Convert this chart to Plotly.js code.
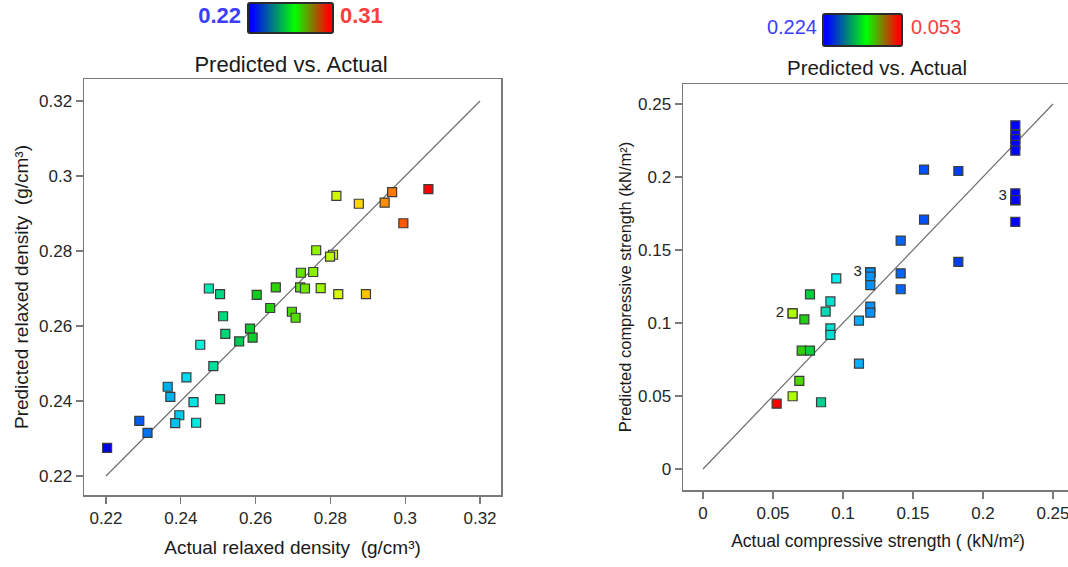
<!DOCTYPE html>
<html><head><meta charset="utf-8">
<script src="https://cdn.plot.ly/plotly-3.0.1.min.js"></script>
<style>html,body{margin:0;padding:0;overflow:hidden;background:#fff}#chart{width:1075px;height:567px}</style>
</head><body><div id="chart"></div>
<script>
// ---- Left chart data: relaxed density (g/cm3)
const leftActual = [0.2203,0.2289,0.2311,0.2365,0.2372,0.2415,0.2396,0.2385,0.2434,0.2441,0.2452,0.2475,0.2505,0.2513,0.2519,0.2487,0.2505,0.2556,0.2585,0.2592,0.2603,0.2639,0.2654,0.2697,0.2707,0.2721,0.2754,0.2719,0.2732,0.2774,0.2821,0.2895,0.2762,0.2807,0.2799,0.2816,0.2876,0.2945,0.2965,0.2995,0.3062];
const leftPred   = [0.2275,0.2347,0.2315,0.2438,0.2411,0.2463,0.2362,0.2341,0.2397,0.2342,0.2550,0.2700,0.2685,0.2626,0.2579,0.2493,0.2405,0.2559,0.2593,0.2569,0.2683,0.2648,0.2703,0.2638,0.2622,0.2742,0.2744,0.2703,0.2700,0.2701,0.2685,0.2685,0.2802,0.2790,0.2785,0.2947,0.2926,0.2929,0.2957,0.2874,0.2965];
const leftTicks  = [0.22,0.24,0.26,0.28,0.3,0.32];
const leftLegend = ['0.22','0.31'];

// ---- Right chart data: compressive strength (kN/m2)
const rightActual = [0.2231,0.2231,0.2231,0.2231,0.2231,0.2231,0.2231,0.2231,0.2231,0.2231,0.1579,0.1824,0.1579,0.1824,0.1412,0.1412,0.1412,0.1195,0.1195,0.1195,0.1195,0.1195,0.1195,0.1195,0.1114,0.1114,0.0952,0.0910,0.0876,0.0910,0.0910,0.0764,0.0640,0.0640,0.0724,0.0705,0.0764,0.0688,0.0640,0.0526,0.0843];
const rightPred   = [0.2354,0.2290,0.2260,0.2220,0.2180,0.1888,0.1842,0.1842,0.1842,0.1692,0.2050,0.2041,0.1708,0.1418,0.1564,0.1340,0.1231,0.1347,0.1347,0.1347,0.1317,0.1260,0.1112,0.1071,0.1016,0.0721,0.1306,0.1148,0.1078,0.0963,0.0918,0.1196,0.1066,0.1066,0.1025,0.0810,0.0810,0.0603,0.0498,0.0447,0.0457];
const rightTicks  = [0,0.05,0.1,0.15,0.2,0.25];
const rightLegend = ['0.224','0.053'];
// replicate-count labels
const countText = ['3','2','3'];
const countX    = [0.1195,0.0640,0.2231];
const countY    = [0.1347,0.1066,0.1865];

const W = 1075, H = 567;
const px = v => v / W, py = v => 1 - v / H;
const SANS = 'Liberation Sans, Arial, sans-serif';

const leftScale = [[0,'#0000e6'],[0.1,'#005af0'],[0.18,'#00aaf0'],[0.24,'#00dcf0'],[0.28,'#00f0d8'],[0.33,'#00dc8c'],[0.4,'#00c850'],[0.46,'#10d010'],[0.56,'#50dc00'],[0.64,'#a0fa00'],[0.69,'#d8f800'],[0.75,'#ffd700'],[0.83,'#ff8c00'],[0.88,'#ff5a00'],[0.95,'#ff0000'],[1,'#ff0000']];
const rightScale = [[0,'#ff0000'],[0.064,'#b0ff00'],[0.1,'#30d000'],[0.14,'#00d040'],[0.18,'#00d090'],[0.22,'#00e0d0'],[0.25,'#00f0f0'],[0.34,'#00b0ff'],[0.4,'#008cff'],[0.52,'#0064ff'],[0.62,'#0050ff'],[0.75,'#0040f0'],[1,'#0000ff']];

const marker = (vals, scale, cmin, cmax) => ({symbol:'square', size:9, color:vals, colorscale:scale, cmin:cmin, cmax:cmax, showscale:false, line:{color:'#3c3c3c', width:1.2}});

// overlay axis in page pixels, for the legend labels and the second title
const overlayX = [241, 340, 817, 911, 877];
const overlayY = [17, 17, 29, 29, 70];
const overlayText = ['<b>'+leftLegend[0]+'</b>', '<b>'+leftLegend[1]+'</b>', rightLegend[0], rightLegend[1], 'Predicted vs. Actual'];
const overlayPos = ['middle left','middle right','middle left','middle right','middle center'];
const overlayColor = ['#3d3dff','#ff3d3d','#3d3dff','#ff3d3d','#1a1a1a'];
const overlaySize = [22,22,20,20,20.5];

const traces = [
  {x:[leftTicks[0],leftTicks[leftTicks.length-1]], y:[leftTicks[0],leftTicks[leftTicks.length-1]], mode:'lines', line:{color:'#6e6e6e', width:1.2}, xaxis:'x', yaxis:'y', hoverinfo:'skip'},
  {x:leftActual, y:leftPred, mode:'markers', marker:marker(leftActual, leftScale, 0.22, 0.31), xaxis:'x', yaxis:'y'},
  {x:[rightTicks[0],rightTicks[rightTicks.length-1]], y:[rightTicks[0],rightTicks[rightTicks.length-1]], mode:'lines', line:{color:'#6e6e6e', width:1.2}, xaxis:'x2', yaxis:'y2', hoverinfo:'skip'},
  {x:rightActual, y:rightPred, mode:'markers', marker:marker(rightActual, rightScale, 0.053, 0.224), xaxis:'x2', yaxis:'y2'},
  {x:countX, y:countY, text:countText, mode:'markers+text', marker:{size:12, color:'rgba(0,0,0,0)'}, textposition:'middle left', textfont:{family:SANS, size:15, color:'#222'}, xaxis:'x2', yaxis:'y2', hoverinfo:'skip', cliponaxis:false},
  {x:overlayX, y:overlayY, text:overlayText, mode:'text', textposition:overlayPos, textfont:{family:SANS, size:overlaySize, color:overlayColor}, xaxis:'x3', yaxis:'y3', hoverinfo:'skip', cliponaxis:false}
];

const tickFont = {family:SANS, size:17, color:'#262626'};
const axBase = {showgrid:false, zeroline:false, showline:true, mirror:true, linecolor:'#7a7a7a', linewidth:1.5, ticks:'outside', ticklen:7, tickwidth:1.2, tickcolor:'#7a7a7a', tickfont:tickFont, automargin:false, fixedrange:true};
const hidden = {visible:false, showgrid:false, zeroline:false, fixedrange:true};

function gradSvg(w,h){
  const s = "<svg xmlns='http://www.w3.org/2000/svg' width='"+w+"' height='"+h+"'><defs><linearGradient id='g' x1='0' x2='1' y1='0' y2='0'><stop offset='0.05' stop-color='#0000ff'/><stop offset='0.55' stop-color='#00ff00'/><stop offset='0.95' stop-color='#ff0000'/></linearGradient></defs><rect x='1' y='1' width='"+(w-2)+"' height='"+(h-2)+"' rx='2' ry='2' fill='url(#g)' stroke='#2a2a2a' stroke-width='2'/></svg>";
  return 'data:image/svg+xml;base64,' + btoa(s);
}

const layout = {
  width:W, height:H, margin:{l:0,r:0,t:0,b:0}, showlegend:false,
  paper_bgcolor:'#ffffff', plot_bgcolor:'rgba(0,0,0,0)',
  title:{text:'Predicted vs. Actual', x:px(291), xanchor:'center', y:py(64), yanchor:'middle', font:{family:SANS, size:22, color:'#1a1a1a'}},
  xaxis:Object.assign({}, axBase, {domain:[px(84),px(501)], range:[0.21412,0.32561], tickvals:leftTicks, ticktext:leftTicks.map(String), anchor:'y',
    title:{text:'Actual relaxed density  (g/cm³)', font:{family:SANS, size:19, color:'#1a1a1a'}, standoff:14}}),
  yaxis:Object.assign({}, axBase, {domain:[py(495),py(79)], range:[0.21493,0.32587], tickvals:leftTicks, ticktext:leftTicks.map(String), anchor:'x',
    title:{text:'Predicted relaxed density  (g/cm³)', font:{family:SANS, size:19, color:'#1a1a1a'}, standoff:5}}),
  xaxis2:Object.assign({}, axBase, {domain:[px(683),px(1073)], range:[-0.0143,0.2643], tickvals:rightTicks, ticktext:rightTicks.map(String), anchor:'y2',
    title:{text:'Actual compressive strength ( (kN/m²)', font:{family:SANS, size:17.5, color:'#1a1a1a'}, standoff:13}}),
  yaxis2:Object.assign({}, axBase, {domain:[py(490),py(84)], range:[-0.0144,0.2637], tickvals:rightTicks, ticktext:rightTicks.map(String), anchor:'x2',
    title:{text:'Predicted compressive strength (kN/m²)', font:{family:SANS, size:16.5, color:'#1a1a1a'}, standoff:2}}),
  xaxis3:Object.assign({}, hidden, {domain:[0,1], range:[0,W], anchor:'y3'}),
  yaxis3:Object.assign({}, hidden, {domain:[0,1], range:[H,0], anchor:'x3'}),
  images:[
    {source:gradSvg(87,32), xref:'paper', yref:'paper', x:px(247), y:py(2), sizex:px(87), sizey:32/H, sizing:'stretch', xanchor:'left', yanchor:'top', layer:'above'},
    {source:gradSvg(81,34), xref:'paper', yref:'paper', x:px(822), y:py(13), sizex:px(81), sizey:34/H, sizing:'stretch', xanchor:'left', yanchor:'top', layer:'above'}
  ]
};

Plotly.newPlot('chart', traces, layout, {displayModeBar:false, staticPlot:true});
</script></body></html>
